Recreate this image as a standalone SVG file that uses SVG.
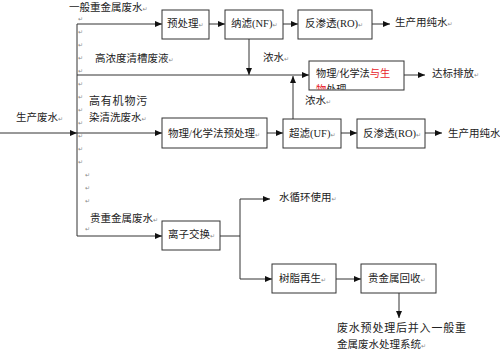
<svg xmlns="http://www.w3.org/2000/svg" width="500" height="349" viewBox="0 0 500 349">
<style>
.t{font-family:"Liberation Serif","Noto Sans CJK SC",serif;font-size:10.5px;fill:#222}
.tl{font-family:"Liberation Serif","Noto Sans CJK SC",serif;font-size:11px;fill:#222;letter-spacing:0.8px}
.pm{font-family:"DejaVu Sans",sans-serif;font-size:6px;fill:#888;letter-spacing:0}
.box{fill:#fff;stroke:#333;stroke-width:1}
.ln{fill:none;stroke:#333;stroke-width:1}
.red{fill:#e8232a}
</style>
<defs>
<marker id="ah" markerUnits="userSpaceOnUse" markerWidth="8" markerHeight="6" refX="7" refY="3" orient="auto">
<path d="M0,0 L7,3 L0,6 Z" fill="#111"/>
</marker>
<clipPath id="cp"><rect x="310" y="62" width="93" height="27.5"/></clipPath>
</defs>
<rect width="500" height="349" fill="#fff"/>

<g id="connectors">
<path class="ln" d="M77,24 V236"/>
<path class="ln" d="M77,24 H162" marker-end="url(#ah)"/>
<path class="ln" d="M209,24 H225" marker-end="url(#ah)"/>
<path class="ln" d="M283,24 H298" marker-end="url(#ah)"/>
<path class="ln" d="M372,24 H390" marker-end="url(#ah)"/>
<path class="ln" d="M249,39 V75" marker-end="url(#ah)"/>
<path class="ln" d="M77,75 H309" marker-end="url(#ah)"/>
<path class="ln" d="M404,75 H425" marker-end="url(#ah)"/>
<path class="ln" d="M293,119 V76" marker-end="url(#ah)"/>
<path class="ln" d="M0,133 H77" marker-end="url(#ah)"/>
<path class="ln" d="M77,133 H162" marker-end="url(#ah)"/>
<path class="ln" d="M267,133 H283" marker-end="url(#ah)"/>
<path class="ln" d="M341,133 H357" marker-end="url(#ah)"/>
<path class="ln" d="M425,133 H442" marker-end="url(#ah)"/>
<path class="ln" d="M77,236 H162" marker-end="url(#ah)"/>
<path class="ln" d="M220,236 H240 M240,199 V279"/>
<path class="ln" d="M240,199 H270" marker-end="url(#ah)"/>
<path class="ln" d="M240,279 H272" marker-end="url(#ah)"/>
<path class="ln" d="M336,279 H361" marker-end="url(#ah)"/>
<path class="ln" d="M399,293 V318" marker-end="url(#ah)"/>
</g>

<g id="node-pretreat">
<rect class="box" x="162" y="10" width="47" height="29"/>
<text class="t" x="167" y="27">预处理<tspan class="pm">↵</tspan></text>
</g>
<g id="node-nf">
<rect class="box" x="225" y="10" width="58" height="29"/>
<text class="t" x="231" y="27">纳滤(NF)<tspan class="pm">↵</tspan></text>
</g>
<g id="node-ro1">
<rect class="box" x="298" y="10" width="74" height="29"/>
<text class="t" x="305" y="27">反渗透(RO)<tspan class="pm">↵</tspan></text>
</g>
<g id="node-physbio">
<rect class="box" x="309" y="61" width="95" height="29"/>
<text class="t" x="316" y="77" style="font-size:10.2px">物理/化学法<tspan class="red">与生</tspan></text>
<text class="t" x="316" y="93" clip-path="url(#cp)" style="font-size:10.2px"><tspan class="red">物</tspan>处理</text>
</g>
<g id="node-physpre">
<rect class="box" x="162" y="118" width="105" height="30"/>
<text class="t" x="168" y="137">物理/化学法预处理<tspan class="pm">↵</tspan></text>
</g>
<g id="node-uf">
<rect class="box" x="283" y="119" width="58" height="29"/>
<text class="t" x="289" y="137">超滤(UF)<tspan class="pm">↵</tspan></text>
</g>
<g id="node-ro2">
<rect class="box" x="357" y="119" width="68" height="29"/>
<text class="t" x="363" y="137">反渗透(RO)<tspan class="pm">↵</tspan></text>
</g>
<g id="node-ion">
<rect class="box" x="162" y="221" width="58" height="29"/>
<text class="t" x="168" y="238">离子交换<tspan class="pm">↵</tspan></text>
</g>
<g id="node-resin">
<rect class="box" x="272" y="264" width="64" height="29"/>
<text class="t" x="279" y="282">树脂再生<tspan class="pm">↵</tspan></text>
</g>
<g id="node-recover">
<rect class="box" x="361" y="264" width="75" height="29"/>
<text class="t" x="368" y="282">贵金属回收<tspan class="pm">↵</tspan></text>
</g>

<g id="labels">
<text class="t" x="69" y="11">一般重金属废水<tspan class="pm">↵</tspan></text>
<text class="t" x="395" y="26">生产用纯水<tspan class="pm">↵</tspan></text>
<text class="t" x="263" y="61">浓水<tspan class="pm">↵</tspan></text>
<text class="t" x="95" y="62">高浓度清槽废液<tspan class="pm">↵</tspan></text>
<text class="t" x="432" y="77">达标排放<tspan class="pm">↵</tspan></text>
<text class="t" x="305" y="104">浓水<tspan class="pm">↵</tspan></text>
<text class="tl" x="89" y="105">高有机物污</text>
<text class="t" x="89" y="121">染清洗废水<tspan class="pm">↵</tspan></text>
<text class="t" x="16" y="121">生产废水<tspan class="pm">↵</tspan></text>
<text class="t" x="448" y="137">生产用纯水</text>
<text class="t" x="90" y="222">贵重金属废水<tspan class="pm">↵</tspan></text>
<text class="t" x="279" y="201">水循环使用<tspan class="pm">↵</tspan></text>
<text class="tl" x="337" y="332">废水预处理后并入一般重</text>
<text class="t" x="337" y="348">金属废水处理系统<tspan class="pm">↵</tspan></text>
</g>

<g id="marks">
<text class="pm" x="78" y="21">↵</text>
<text class="pm" x="78" y="34">↵</text>
<text class="pm" x="78" y="47">↵</text>
<text class="pm" x="78" y="60">↵</text>
<text class="pm" x="78" y="73">↵</text>
<text class="pm" x="78" y="86">↵</text>
<text class="pm" x="78" y="99">↵</text>
<text class="pm" x="78" y="112">↵</text>
<text class="pm" x="78" y="125">↵</text>
<text class="pm" x="78" y="138">↵</text>
<text class="pm" x="78" y="151">↵</text>
<text class="pm" x="78" y="164">↵</text>
<text class="pm" x="85" y="177">↵</text>
<text class="pm" x="85" y="190">↵</text>
<text class="pm" x="85" y="203">↵</text>
<text class="pm" x="85" y="231">↵</text>
</g>
</svg>
